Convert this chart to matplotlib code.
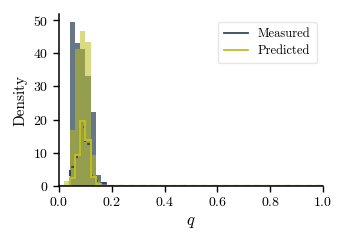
import numpy as np
import matplotlib
matplotlib.use("Agg")
import matplotlib.pyplot as plt

plt.rcParams['font.family'] = ['cmr10', 'DejaVu Serif']
plt.rcParams['mathtext.fontset'] = 'cm'
plt.rcParams['axes.formatter.use_mathtext'] = True

# bins of width 0.02 over [0, 1]
edges = np.linspace(0.0, 1.0, 51)

# filled density histograms (first bins, rest ~0)
measured_fill = [0, 0, 49.3, 43.2, 41.4, 33.2, 22.4, 3.4, 1.1]
predicted_fill = [0, 1.5, 16.9, 41.4, 46.6, 43.4, 9.2, 1.6, 0]
# outline histograms
measured_step = [0, 0, 5.6, 8.6, 17.7, 12.6, 3.1, 1.6, 0.8]
predicted_step = [0, 0, 2.5, 9.3, 19.7, 13.9, 2.8, 0.5, 0]

def pad(v):
    out = np.zeros(len(edges) - 1)
    out[:len(v)] = v
    return out

c_meas = '#34495e'
c_pred = '#bcbd22'

fig = plt.figure(figsize=(3.47, 2.47), dpi=100)
ax = fig.add_axes([0.170, 0.247, 0.761, 0.696])

ax.stairs(pad(measured_fill), edges, fill=True, color=c_meas, alpha=0.75, lw=0)
ax.stairs(pad(predicted_fill), edges, fill=True, color=c_pred, alpha=0.55, lw=0)
ax.stairs(pad(measured_step), edges, color=c_meas, lw=1.5, ls=(0, (3, 2)))
ax.stairs(pad(predicted_step), edges, color=c_pred, lw=1.5)

ax.plot([], [], color=c_meas, lw=1.3, label='Measured')
ax.plot([], [], color=c_pred, lw=1.3, label='Predicted')
ax.legend(loc='upper right', fontsize=9, frameon=True, edgecolor='#e0e0e0',
          fancybox=True, handlelength=1.9, borderpad=0.5, labelspacing=0.35,
          bbox_to_anchor=(1.0, 0.99))

ax.set_xlim(0, 1)
ax.set_ylim(0, 51.8)
ax.set_xticks([0.0, 0.2, 0.4, 0.6, 0.8, 1.0])
ax.set_yticks([0, 10, 20, 30, 40, 50])
ax.set_xlabel(r'$q$', fontsize=12)
ax.set_ylabel('Density', fontsize=11)
ax.tick_params(labelsize=10, direction='out', length=4, width=1)
for s in ['top', 'right']:
    ax.spines[s].set_visible(False)
for s in ['left', 'bottom']:
    ax.spines[s].set_linewidth(1.1)

fig.savefig('out.png', dpi=100)
